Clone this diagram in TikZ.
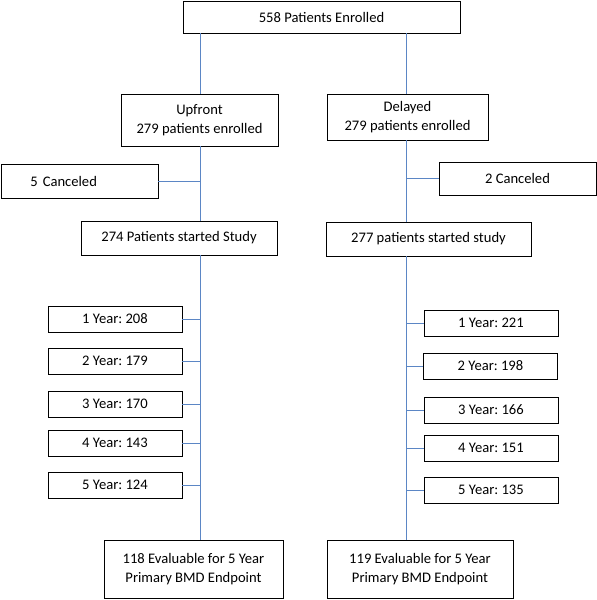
\documentclass[tikz,border=0pt]{standalone}
\usepackage{fontspec}
\setmainfont{Carlito}
\frenchspacing
\definecolor{conn}{RGB}{91,134,197}
\begin{document}
\begin{tikzpicture}[x=1pt,y=-1pt,
  box/.style={draw=black,line width=0.9pt,align=center,inner sep=0pt,font=\fontsize{14.6}{18.5}\selectfont},
  link/.style={draw=conn,line width=0.8pt}]
\useasboundingbox (0,0) rectangle (597,600);
\node[box,minimum width=277,minimum height=32] (top) at (321.5,17) {558 Patients Enrolled};
\node[box,minimum width=157,minimum height=52] (up) at (199.5,120) {Upfront\\279 patients enrolled};
\node[box,minimum width=161,minimum height=46] (del) at (407.5,117) {Delayed\\279 patients enrolled};
\node[box,minimum height=34,text width=98,inner xsep=29.5,align=left] (can5) at (79.5,181) {5 Canceled};
\node[box,minimum width=157,minimum height=33] (can2) at (517.5,178.5) {2 Canceled};
\node[box,minimum width=196,minimum height=34] (s274) at (179,238) {274 Patients started Study};
\node[box,minimum width=205,minimum height=34] (s277) at (428.5,239) {277 patients started study};
\node[box,minimum width=134,minimum height=26] (L1) at (115,319) {1 Year: 208};
\node[box,minimum width=134,minimum height=26] (L2) at (115,361) {2 Year: 179};
\node[box,minimum width=134,minimum height=26] (L3) at (115,404) {3 Year: 170};
\node[box,minimum width=134,minimum height=26] (L4) at (115,443) {4 Year: 143};
\node[box,minimum width=134,minimum height=26] (L5) at (115,485) {5 Year: 124};
\node[box,minimum width=134,minimum height=26] (R1) at (491,323) {1 Year: 221};
\node[box,minimum width=134,minimum height=26] (R2) at (490.5,366) {2 Year: 198};
\node[box,minimum width=134,minimum height=26] (R3) at (491,410) {3 Year: 166};
\node[box,minimum width=134,minimum height=26] (R4) at (491,448) {4 Year: 151};
\node[box,minimum width=134,minimum height=26] (R5) at (491,490) {5 Year: 135};
\node[box,minimum width=179,minimum height=58] (botL) at (193.5,569) {118 Evaluable for 5 Year\\Primary BMD Endpoint};
\node[box,minimum width=186,minimum height=58] (botR) at (420,569) {119 Evaluable for 5 Year\\Primary BMD Endpoint};
\coordinate (lx) at (200,0);
\coordinate (rx) at (406,0);
% left column
\draw[link] (top.south -| lx) -- (up.north -| lx);
\draw[link] (up.south -| lx) -- (s274.north -| lx);
\draw[link] (s274.south -| lx) -- (botL.north -| lx);
\draw[link] (can5.east) -- (can5.east -| lx);
\foreach \n in {L1,L2,L3,L4,L5} \draw[link] (\n.east) -- (\n.east -| lx);
% right column
\draw[link] (top.south -| rx) -- (del.north -| rx);
\draw[link] (del.south -| rx) -- (s277.north -| rx);
\draw[link] (s277.south -| rx) -- (botR.north -| rx);
\draw[link] (can2.west) -- (can2.west -| rx);
\foreach \n in {R1,R2,R3,R4,R5} \draw[link] (\n.west) -- (\n.west -| rx);
\end{tikzpicture}
\end{document}
